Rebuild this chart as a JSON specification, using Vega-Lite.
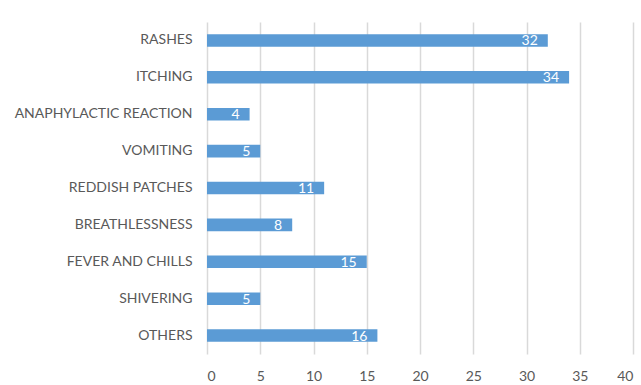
{
  "$schema": "https://vega.github.io/schema/vega-lite/v6.json",
  "autosize": "none",
  "width": 426,
  "height": 332,
  "padding": {"left": 207, "top": 22, "right": 8, "bottom": 31},
  "background": "white",
  "data": {"values": [
    {"symptom": "RASHES", "count": 32},
    {"symptom": "ITCHING", "count": 34},
    {"symptom": "ANAPHYLACTIC REACTION", "count": 4},
    {"symptom": "VOMITING", "count": 5},
    {"symptom": "REDDISH PATCHES", "count": 11},
    {"symptom": "BREATHLESSNESS", "count": 8},
    {"symptom": "FEVER AND CHILLS", "count": 15},
    {"symptom": "SHIVERING", "count": 5},
    {"symptom": "OTHERS", "count": 16}
  ]},
  "encoding": {
    "y": {"field": "symptom", "type": "nominal", "sort": null,
      "scale": {"paddingInner": 0.66, "paddingOuter": 0.33},
      "axis": {"title": null, "ticks": false, "domain": false, "labelPadding": 15,
        "labelFont": "Lato", "labelFontSize": 14, "labelColor": "#595959"}},
    "x": {"field": "count", "type": "quantitative",
      "scale": {"domain": [0, 40], "nice": false},
      "axis": {"title": null, "values": [0,5,10,15,20,25,30,35,40], "ticks": false, "domain": false,
        "grid": true, "gridColor": "#D9D9D9", "gridWidth": 1.5, "labelPadding": 15,
        "labelFont": "Lato", "labelFontSize": 14, "labelColor": "#595959"}}
  },
  "layer": [
    {"mark": {"type": "bar", "color": "#5B9BD5"}},
    {"mark": {"type": "text", "align": "right", "baseline": "middle", "dx": -10, "dy": 1, "color": "white", "font": "Lato", "fontSize": 14},
     "encoding": {"text": {"field": "count", "type": "quantitative"}}}
  ],
  "config": {"view": {"stroke": null}}
}
